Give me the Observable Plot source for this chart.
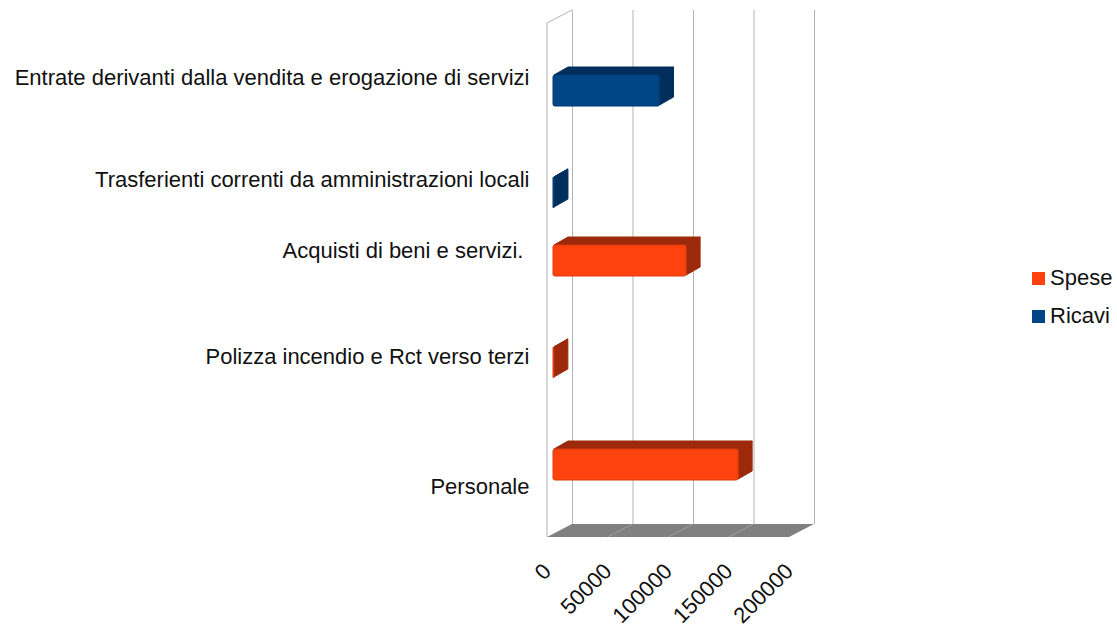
<!DOCTYPE html>
<html>
<head>
<meta charset="utf-8">
<script src="https://cdn.jsdelivr.net/npm/d3@7"></script>
<script src="https://cdn.jsdelivr.net/npm/@observablehq/plot@0.6"></script>
<style>
  body { margin: 0; background: #fff; }
  #wrap { position: relative; width: 1117px; height: 624px; overflow: hidden; }
  #legend { position: absolute; left: 1032px; top: 265px; }
  #legend * { font-family: "Liberation Sans", Arial, sans-serif; font-size: 22px; color: #111; }
  #legend .lg-swatch { padding-bottom: 12px; }
  #legend .lg-swatch svg { margin-right: 5px; }
</style>
</head>
<body>
<div id="wrap"><div id="chart"></div><div id="legend"></div></div>
<script>
// ---- data ----
const categories = [
  "Entrate derivanti dalla vendita e erogazione di servizi",
  "Trasferienti correnti da amministrazioni locali",
  "Acquisti di beni e servizi.\u00a0",
  "Polizza incendio e Rct verso terzi",
  "Personale"
];
const seriesNames = ["Spese", "Ricavi"];
const speseValues  = [null, null, 110000, 700, 153000];
const ricaviValues = [88000, 800, null, null, null];
const xTicks = [0, 50000, 100000, 150000, 200000];
const seriesColors = ["#ff420e", "#004586"];
const seriesDark = ["#9c2a0a", "#002f5c"];

const speseRows = categories.map((c, i) => ({category: c, series: "Spese", value: speseValues[i]})).filter(d => d.value != null);
const ricaviRows = categories.map((c, i) => ({category: c, series: "Ricavi", value: ricaviValues[i]})).filter(d => d.value != null);

const NS = "http://www.w3.org/2000/svg";
const wallDepth = [25, 13];
const barDepth = [14, 8];

function poly(pts, fill, stroke) {
  const p = document.createElementNS(NS, "polygon");
  p.setAttribute("points", pts.map(q => q.join(",")).join(" "));
  p.setAttribute("fill", fill);
  p.setAttribute("stroke", stroke || "none");
  return p;
}

// render transform that extrudes each bar rect into a 3D box
function extrude(dark) {
  return (index, scales, values, dims, ctx, next) => {
    const g = next(index, scales, values, dims, ctx);
    const rects = Array.from(g.querySelectorAll("rect"));
    const [dx, dy] = barDepth;
    for (const r of rects) {
      const x = +r.getAttribute("x"), y = +r.getAttribute("y");
      const w = +r.getAttribute("width"), h = +r.getAttribute("height");
      g.appendChild(poly([[x + 1, y], [x + w, y], [x + w + dx, y - dy], [x + dx + 1, y - dy]], dark, dark));
      g.appendChild(poly([[x + w, y], [x + w + dx, y - dy], [x + w + dx, y + h - dy - 1], [x + w, y + h - 1]], dark, dark));
    }
    for (const r of rects) g.appendChild(r);
    return g;
  };
}

// floor and left wall of the 3D box, positioned from the x scale
function walls(index, scales, values, dims) {
  const g = document.createElementNS(NS, "g");
  const x = scales.x;
  const [dx, dy] = wallDepth;
  const yb = dims.height - dims.marginBottom, yt = dims.marginTop;
  const x0 = x(xTicks[0]), x1 = x(xTicks[xTicks.length - 1]);
  g.appendChild(poly([[x0, yb], [x1, yb], [x1 + dx, yb - dy], [x0 + dx, yb - dy]], "#808080"));
  for (const t of xTicks.slice(1, -1)) {
    const l = document.createElementNS(NS, "line");
    l.setAttribute("x1", x(t) + dx); l.setAttribute("y1", yb - dy);
    l.setAttribute("x2", x(t)); l.setAttribute("y2", yb);
    l.setAttribute("stroke", "#a0a0a0");
    g.appendChild(l);
  }
  const wl = document.createElementNS(NS, "path");
  wl.setAttribute("d", `M${x0},${yb}V${yt}L${x0 + dx},${yt - dy}`);
  wl.setAttribute("fill", "none");
  wl.setAttribute("stroke", "#b3b3b3");
  g.appendChild(wl);
  return g;
}

const axisStyle = {tickSize: 0, tickPadding: 18, fontSize: 22, label: null};

const chart = Plot.plot({
  width: 1117,
  height: 624,
  marginLeft: 547,
  marginRight: 328,
  marginTop: 23,
  marginBottom: 87,
  style: {fontFamily: "Liberation Sans, Arial, sans-serif", fontSize: "22px", color: "#111", background: "#fff"},
  x: {domain: [xTicks[0], xTicks[xTicks.length - 1]], axis: null},
  y: {domain: categories, padding: 0, axis: null},
  marks: [
    Plot.ruleX(xTicks, {stroke: "#b3b3b3", dx: wallDepth[0], dy: -wallDepth[1]}),
    walls,
    Plot.barX(speseRows, {
      x: "value", y: "category", fill: seriesColors[0], stroke: "#d93a0c", strokeWidth: 1,
      insetTop: 19, insetBottom: 52, rx: 2, dx: 6, dy: -3, render: extrude(seriesDark[0])
    }),
    Plot.barX(ricaviRows, {
      x: "value", y: "category", fill: seriesColors[1], stroke: "#003a70", strokeWidth: 1,
      insetTop: 53, insetBottom: 18, rx: 2, dx: 6, dy: -3, render: extrude(seriesDark[1])
    }),
    Plot.axisY([categories[0], categories[1]], {...axisStyle, dy: 1}),
    Plot.axisY([categories[2]], {...axisStyle, dy: -30}),
    Plot.axisY([categories[3]], {...axisStyle, dy: -26}),
    Plot.axisY([categories[4]], {...axisStyle, dy: 2}),
    Plot.axisX(xTicks, {tickSize: 0, tickPadding: 30, tickRotate: -45, fontSize: 22, label: null, tickFormat: d => String(d)})
  ]
});
document.getElementById("chart").appendChild(chart);

const legend = Plot.legend({
  color: {domain: seriesNames, range: seriesColors},
  legend: "swatches",
  columns: 1,
  swatchSize: 13,
  className: "lg"
});
document.getElementById("legend").appendChild(legend);
</script>
</body>
</html>
